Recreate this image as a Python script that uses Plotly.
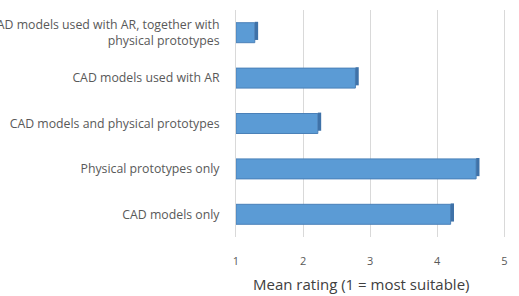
import plotly.graph_objects as go

categories = [
    "CAD models used with AR, together with<br>physical prototypes",
    "CAD models used with AR",
    "CAD models and physical prototypes",
    "Physical prototypes only",
    "CAD models only",
]
mean_rating = [1.28, 2.78, 2.22, 4.58, 4.20]
tick_values = [1, 2, 3, 4, 5]
tick_labels = ["1", "2", "3", "4", "5"]
axis_title = "Mean rating (1 = most suitable)"

depth = [0.05] * len(categories)

fig = go.Figure()
fig.add_trace(go.Bar(
    y=categories, x=[v - 1 for v in mean_rating], base=1, orientation="h",
    marker=dict(color="#5B9BD5", line=dict(color="#4A80B8", width=1)),
    width=0.44, hoverinfo="skip",
))
fig.add_trace(go.Bar(
    y=categories, x=depth, base=mean_rating, orientation="h",
    marker=dict(color="#3F72A8", line=dict(width=0)),
    width=0.40, offset=-0.24, hoverinfo="skip",
))

fig.update_layout(
    width=519, height=296,
    margin=dict(l=236, r=8, t=10, b=59),
    paper_bgcolor="white", plot_bgcolor="white",
    showlegend=False, barmode="overlay",
    font=dict(family="Open Sans", color="#595959", size=12),
    xaxis=dict(
        range=[1, 5.1], tickvals=tick_values, ticktext=tick_labels,
        showgrid=True, gridcolor="#D9D9D9", gridwidth=1,
        zeroline=False, showline=False,
        ticks="outside", ticklen=14, tickcolor="rgba(0,0,0,0)",
        automargin=False,
        tickfont=dict(size=11, color="#595959"),
    ),
    yaxis=dict(
        autorange="reversed", showgrid=False, zeroline=False,
        showline=True, linecolor="#D9D9D9", ticks="",
        ticklabelstandoff=13, automargin=False,
        tickfont=dict(size=12.3, color="#595959"),
    ),
    annotations=[dict(
        text=axis_title, xref="paper", yref="paper",
        x=0.455, y=-0.205, xanchor="center", yanchor="middle",
        showarrow=False, font=dict(size=15, color="#404040"),
    )],
)

fig.write_html("out.html")
